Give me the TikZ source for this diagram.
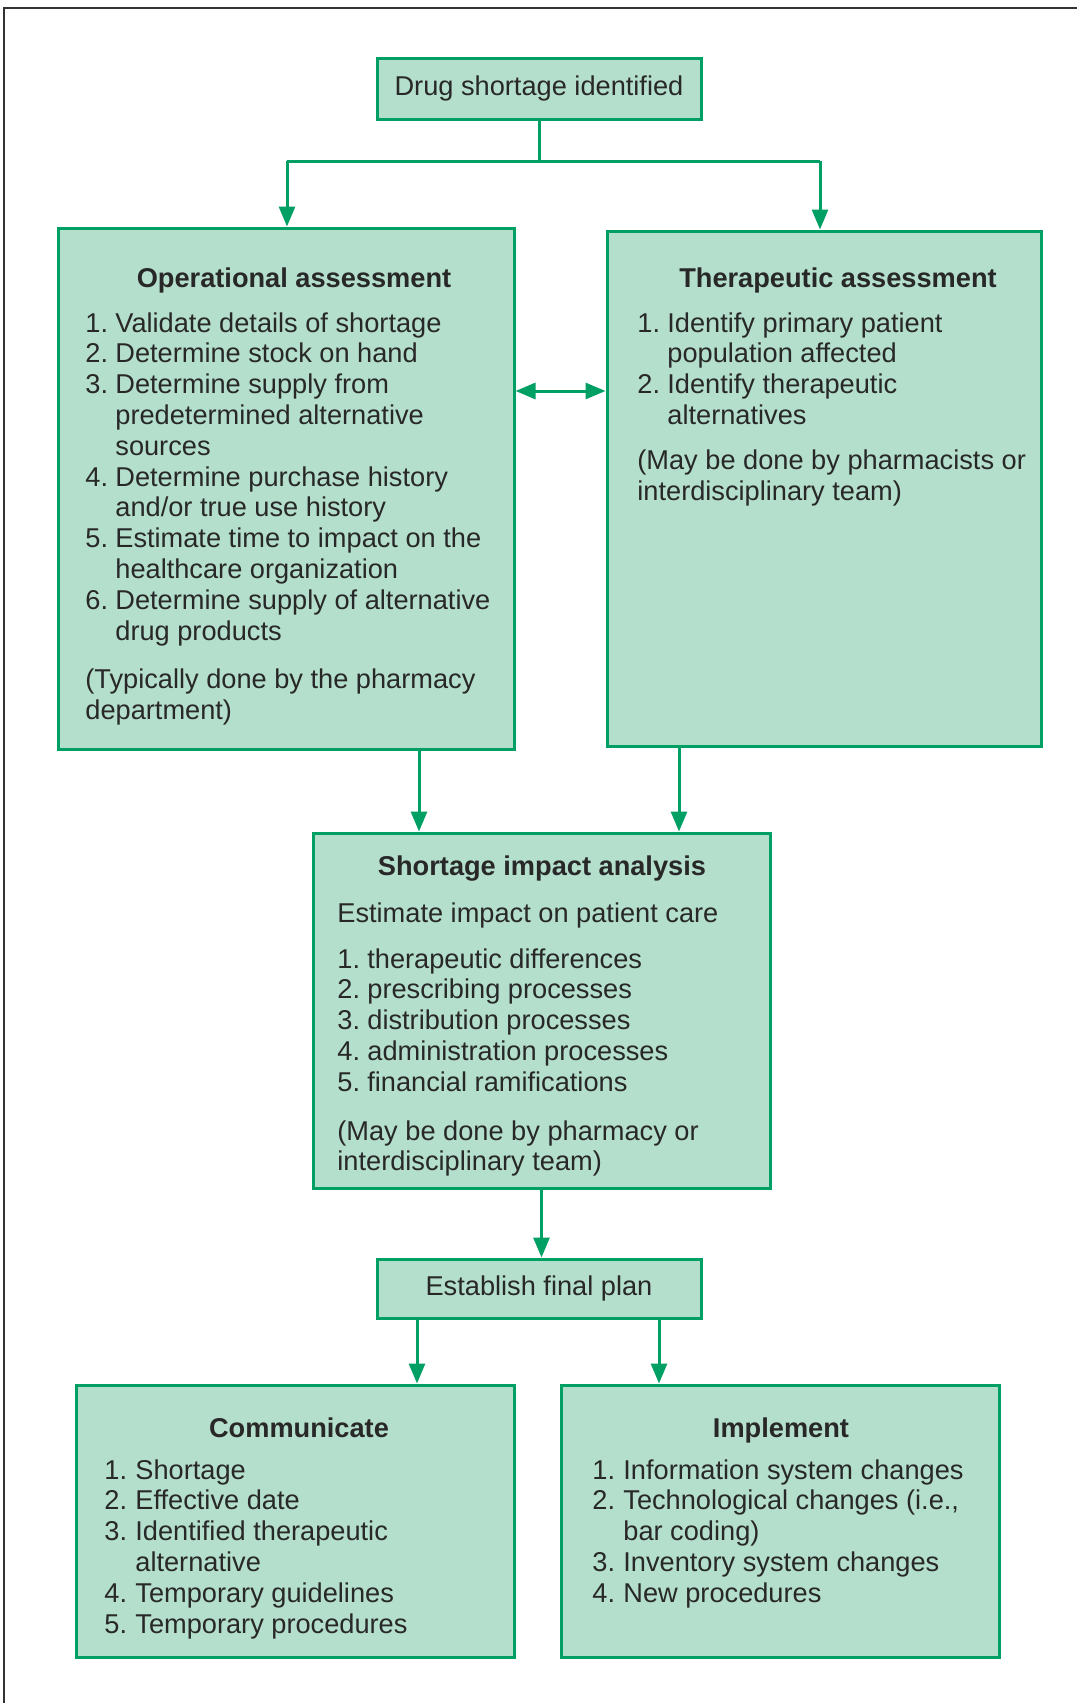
\documentclass[tikz,border=0pt]{standalone}
\usepackage{fontspec}
\setmainfont{Liberation Sans}
\usetikzlibrary{arrows.meta}
\definecolor{boxfill}{RGB}{180,223,204}
\definecolor{boxline}{RGB}{0,160,100}
\definecolor{txt}{RGB}{40,40,40}
\newcommand{\fs}{\fontsize{13.6}{15.4}\selectfont}
\newcommand{\wide}[1]{\multicolumn{2}{@{}l@{}}{#1}}
\begin{document}
\begin{tikzpicture}[x=0.5pt,y=-0.5pt,
  box/.style={draw=boxline, fill=boxfill, line width=1.5pt, inner sep=0pt, text=txt, font=\fs},
  ttl/.style={anchor=base, inner sep=0pt, text=txt, font=\fs\bfseries},
  body/.style={anchor=base west, inner sep=0pt, text=txt, font=\fs},
  link/.style={draw=boxline, line width=1.5pt},
  arr/.style={link, -{Triangle[length=10pt,width=8pt]}},
  darr/.style={link, {Triangle[length=10pt,width=8pt]}-{Triangle[length=10pt,width=8pt]}}
]
\useasboundingbox (0,0) rectangle (1077,1703);
\draw[black!80, line width=1.2pt] (4,1703) -- (4,8) -- (1077,8);

% boxes
\node[box, minimum width=162pt, minimum height=30.5pt] (top) at (539,88.5) {Drug shortage identified};
\node[box, minimum width=228pt, minimum height=260.5pt] (op) at (286,488.5) {};
\node[box, minimum width=217pt, minimum height=257.5pt] (th) at (824,488.5) {};
\node[box, minimum width=228.5pt, minimum height=177.5pt] (imp) at (541.5,1010.5) {};
\node[box, minimum width=162pt, minimum height=29.5pt] (plan) at (539,1288.5) {Establish final plan};
\node[box, minimum width=219pt, minimum height=136pt] (com) at (295,1521) {};
\node[box, minimum width=219pt, minimum height=136pt] (impl) at (780,1521) {};

% titles
\node[ttl] (optitle) at (294,287) {Operational assessment};
\node[ttl] (thtitle) at (838,287) {Therapeutic assessment};
\node[ttl] (imptitle) at (542,875) {Shortage impact analysis};
\node[ttl] (comtitle) at (299,1437) {Communicate};
\node[ttl] (impltitle) at (781,1437) {Implement};

% bodies
\node[body] (opbody) at (85,332) {\begin{tabular}[t]{@{}p{15pt}@{}l@{}}
1. & Validate details of shortage\\
2. & Determine stock on hand\\
3. & Determine supply from\\
   & predetermined alternative\\
   & sources\\
4. & Determine purchase history\\
   & and/or true use history\\
5. & Estimate time to impact on the\\
   & healthcare organization\\
6. & Determine supply of alternative\\
   & drug products\\[9pt]
\wide{(Typically done by the pharmacy}\\
\wide{department)}
\end{tabular}};

\node[body] (thbody) at (637,332) {\begin{tabular}[t]{@{}p{15pt}@{}l@{}}
1. & Identify primary patient\\
   & population affected\\
2. & Identify therapeutic\\
   & alternatives\\[7pt]
\wide{(May be done by pharmacists or}\\
\wide{interdisciplinary team)}
\end{tabular}};

\node[body] (impbody) at (337,922) {\begin{tabular}[t]{@{}p{15pt}@{}l@{}}
\wide{Estimate impact on patient care}\\[7.6pt]
1. & therapeutic differences\\
2. & prescribing processes\\
3. & distribution processes\\
4. & administration processes\\
5. & financial ramifications\\[9pt]
\wide{(May be done by pharmacy or}\\
\wide{interdisciplinary team)}
\end{tabular}};

\node[body] (combody) at (104,1479) {\begin{tabular}[t]{@{}p{15.5pt}@{}l@{}}
1. & Shortage\\
2. & Effective date\\
3. & Identified therapeutic\\
   & alternative\\
4. & Temporary guidelines\\
5. & Temporary procedures
\end{tabular}};

\node[body] (implbody) at (592,1479) {\begin{tabular}[t]{@{}p{15.5pt}@{}l@{}}
1. & Information system changes\\
2. & Technological changes (i.e.,\\
   & bar coding)\\
3. & Inventory system changes\\
4. & New procedures
\end{tabular}};

% connectors
\coordinate (jl) at (287,161);
\coordinate (jr) at (820,161);
\coordinate (dbl) at (560,391);
\coordinate (a1) at (419,0);
\coordinate (a2) at (679,0);
\coordinate (a3) at (417,0);
\coordinate (a4) at (659,0);

\draw[link] (top.south) -- (top.south |- jl);
\draw[link] (jl) -- (jr);
\draw[arr] (jl) -- (jl |- op.north);
\draw[arr] (jr) -- (jr |- th.north);
\draw[darr] (op.east |- dbl) -- (th.west |- dbl);
\draw[arr] (a1 |- op.south) -- (a1 |- imp.north);
\draw[arr] (a2 |- th.south) -- (a2 |- imp.north);
\draw[arr] (imp.south) -- (imp.south |- plan.north);
\draw[arr] (a3 |- plan.south) -- (a3 |- com.north);
\draw[arr] (a4 |- plan.south) -- (a4 |- impl.north);
\end{tikzpicture}
\end{document}
